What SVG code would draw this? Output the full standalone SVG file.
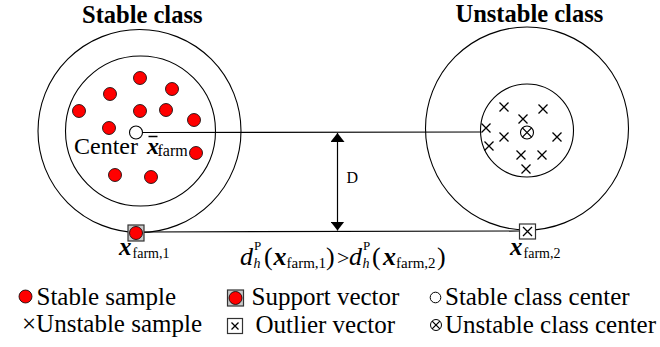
<svg xmlns="http://www.w3.org/2000/svg" width="660" height="347" viewBox="0 0 660 347">
<defs>
<style>
text{font-family:'Liberation Serif','DejaVu Serif',serif;fill:#000}
.title{font-size:24.5px;font-weight:bold}
.lg{font-size:25px}
.bi{font-weight:bold;font-style:italic}
.it{font-style:italic}
.ring{fill:none;stroke:#000;stroke-width:1.1}
.dot{fill:#f00;stroke:#000;stroke-width:0.8}
.cr{stroke:#000;stroke-width:1.3;fill:none}
.ln{stroke:#000;stroke-width:1.2;fill:none}
</style>
<marker id="ah" viewBox="0 0 10 10" refX="10" refY="5" markerWidth="9" markerHeight="14" markerUnits="userSpaceOnUse" orient="auto-start-reverse" preserveAspectRatio="none">
<path d="M0,0 L10,5 L0,10 z" fill="#000"/>
</marker>
<g id="x"><path class="cr" d="M-4.5,-4.5 L4.5,4.5 M-4.5,4.5 L4.5,-4.5"/></g>
</defs>
<rect width="660" height="347" fill="#fff"/>

<g id="connectors">
<line class="ln" x1="142.5" y1="132.5" x2="481" y2="132"/>
<line class="ln" x1="144" y1="232" x2="519" y2="231"/>
<line class="ln" x1="337.5" y1="133" x2="337.5" y2="230.5" marker-start="url(#ah)" marker-end="url(#ah)"/>
<text x="346.5" y="182.5" font-size="16">D</text>
</g>

<g id="stable-class">
<text class="title" x="82" y="22.5">Stable class</text>
<circle class="ring" cx="139.5" cy="131" r="101.5"/>
<circle class="ring" cx="140.5" cy="131" r="75"/>
<g id="stable-samples">
<circle class="dot" cx="140" cy="78" r="6.5"/>
<circle class="dot" cx="110" cy="94" r="6.5"/>
<circle class="dot" cx="172" cy="89" r="6.5"/>
<circle class="dot" cx="79" cy="111" r="6.5"/>
<circle class="dot" cx="140" cy="111" r="6.5"/>
<circle class="dot" cx="166" cy="110" r="6.5"/>
<circle class="dot" cx="194" cy="120" r="6.5"/>
<circle class="dot" cx="109" cy="128" r="6.5"/>
<circle class="dot" cx="196" cy="153" r="6.5"/>
<circle class="dot" cx="115" cy="175" r="6.5"/>
<circle class="dot" cx="151" cy="177" r="6.5"/>
</g>
<circle cx="136" cy="132.5" r="6.5" fill="#fff" stroke="#000" stroke-width="1.1"/>
<text x="74" y="153.5" font-size="24">Center</text>
<text class="bi" x="147" y="153.5" font-size="24">x</text>
<line x1="148.5" y1="136.5" x2="157.5" y2="136.5" stroke="#000" stroke-width="1.5"/>
<text x="157.5" y="156" font-size="16">farm</text>
</g>

<g id="support-vector">
<rect x="128" y="225" width="16" height="16" fill="#c8c8c8" stroke="#333" stroke-width="1.2"/>
<circle class="dot" cx="136" cy="233" r="6.5"/>
<text class="bi" x="119" y="254.5" font-size="25">x</text>
<text x="132.5" y="257.5" font-size="14">farm,1</text>
</g>

<g id="unstable-class">
<text class="title" x="455.5" y="22">Unstable class</text>
<circle class="ring" cx="527" cy="128.5" r="101.5"/>
<circle class="ring" cx="527" cy="130.5" r="46.5"/>
<use href="#x" x="504" y="107"/>
<use href="#x" x="543" y="109"/>
<use href="#x" x="523" y="119"/>
<use href="#x" x="486" y="128"/>
<use href="#x" x="504" y="137"/>
<use href="#x" x="557" y="137"/>
<use href="#x" x="489" y="146"/>
<use href="#x" x="521" y="155"/>
<use href="#x" x="542" y="155"/>
<use href="#x" x="526" y="169"/>
<g id="unstable-center">
<circle cx="527" cy="132.5" r="6.5" fill="#fff" stroke="#000" stroke-width="1.1"/>
<path class="cr" d="M522.4,127.9 L531.6,137.1 M522.4,137.1 L531.6,127.9" stroke-width="1.1"/>
</g>
</g>

<g id="outlier-vector">
<rect x="519.5" y="224" width="16" height="15" fill="#fff" stroke="#333" stroke-width="1.2"/>
<use href="#x" x="527.5" y="231.5"/>
<text class="bi" x="510" y="254.5" font-size="25">x</text>
<text x="523.5" y="257.5" font-size="14">farm,2</text>
</g>

<g id="inequality">
<text class="it" x="240" y="265" font-size="26">d</text>
<text x="254" y="250" font-size="13">P</text>
<text class="it" x="253.5" y="268" font-size="14">h</text>
<text x="264" y="265" font-size="26">(</text>
<text class="bi" x="273.5" y="265" font-size="26">x</text>
<text x="286.5" y="268" font-size="15">farm,1</text>
<text x="326" y="265" font-size="26">)</text>
<text x="337" y="265" font-size="22">&gt;</text>
<text class="it" x="349" y="265" font-size="26">d</text>
<text x="363" y="250" font-size="13">P</text>
<text class="it" x="362.5" y="268" font-size="14">h</text>
<text x="372" y="265" font-size="26">(</text>
<text class="bi" x="383" y="265" font-size="26">x</text>
<text x="396" y="268" font-size="15">farm,2</text>
<text x="437" y="265" font-size="26">)</text>
</g>

<g id="legend">
<circle class="dot" cx="25.5" cy="296.5" r="6.5"/>
<text class="lg" x="36.5" y="304.5">Stable sample</text>
<text class="lg" x="22" y="332">×Unstable sample</text>
<rect x="227.5" y="290" width="16" height="16" fill="#c8c8c8" stroke="#333" stroke-width="1.2"/>
<circle class="dot" cx="235.5" cy="298" r="6.5"/>
<text class="lg" x="251.5" y="305">Support vector</text>
<rect x="227.5" y="318.5" width="15" height="15" fill="#fff" stroke="#333" stroke-width="1.2"/>
<path class="cr" d="M231.5,322.5 L238.5,329.5 M231.5,329.5 L238.5,322.5" stroke-width="1.1"/>
<text class="lg" x="255.5" y="333">Outlier vector</text>
<circle cx="435.5" cy="297.5" r="5.3" fill="#fff" stroke="#000" stroke-width="1"/>
<text class="lg" x="445" y="305">Stable class center</text>
<circle cx="436" cy="325" r="5.5" fill="#fff" stroke="#000" stroke-width="1"/>
<path class="cr" d="M432.1,321.1 L439.9,328.9 M432.1,328.9 L439.9,321.1" stroke-width="1"/>
<text class="lg" x="445" y="332.5">Unstable class center</text>
</g>
</svg>
